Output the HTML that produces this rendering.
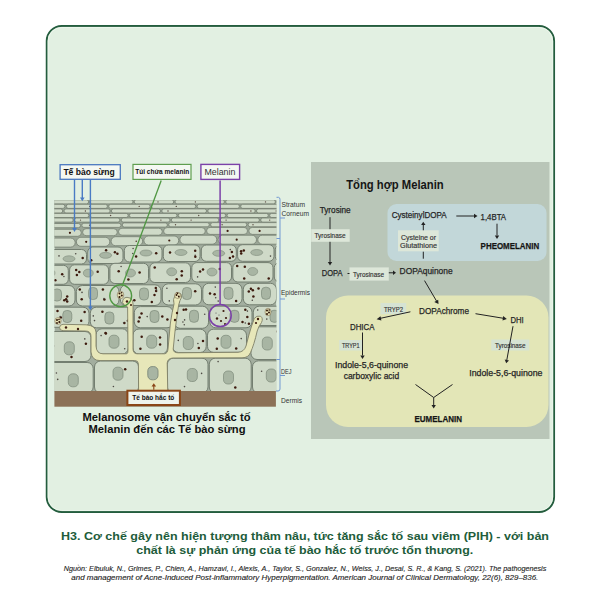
<!DOCTYPE html>
<html><head><meta charset="utf-8">
<style>
html,body{margin:0;padding:0;background:#fff;width:600px;height:600px;overflow:hidden}
svg{display:block;font-family:"Liberation Sans",sans-serif}
</style></head>
<body>
<svg width="600" height="600" viewBox="0 0 600 600">
<!-- card -->
<rect x="46.7" y="26" width="507.4" height="486" rx="15" ry="15" fill="#e2f0e2" stroke="#245d3e" stroke-width="1.9"/>
<rect x="48.1" y="27.4" width="504.6" height="483.2" rx="13.6" ry="13.6" fill="none" stroke="#eef7ed" stroke-width="0.9"/>

<!-- RIGHT PANEL -->
<g id="rp">
<rect x="311" y="162" width="238.5" height="277" fill="#b9c6b8"/>
<rect x="387.5" y="204" width="159" height="57" rx="9" fill="#c2d7d9"/>
<rect x="326" y="295.5" width="222.5" height="131.5" rx="22" fill="#e3e6b7"/>
<!-- enzyme boxes -->
<g fill="#dde7d9">
<rect x="311.2" y="229.2" width="38.5" height="12.6"/>
<rect x="349.5" y="267.4" width="39.3" height="13.2"/>
<rect x="398" y="230.3" width="40.7" height="21"/>
</g>
<g fill="#d6e3d3">
<rect x="380.5" y="303" width="25.7" height="11.2"/>
<rect x="339.2" y="340" width="22.8" height="10.5"/>
<rect x="491.2" y="339.5" width="38" height="11"/>
</g>
<!-- text -->
<g fill="#262626" stroke="#262626" stroke-width="0.25" font-size="8.7">
<text x="346.2" y="188.7" font-size="12" font-weight="bold" fill="#151515" stroke="none" textLength="97.5" lengthAdjust="spacingAndGlyphs">Tổng hợp Melanin</text>
<text x="319.7" y="213" textLength="31" lengthAdjust="spacingAndGlyphs">Tyrosine</text>
<text x="321.7" y="276" textLength="20.8" lengthAdjust="spacingAndGlyphs">DOPA</text>
<text x="391.7" y="218" font-size="9.2" textLength="55" lengthAdjust="spacingAndGlyphs">CysteinylDOPA</text>
<text x="480.6" y="219.5" font-size="9.2" textLength="25.5" lengthAdjust="spacingAndGlyphs">1,4BTA</text>
<text x="480.6" y="249.2" font-size="9" font-weight="bold" fill="#111" textLength="58.7" lengthAdjust="spacingAndGlyphs">PHEOMELANIN</text>
<text x="399.6" y="274" textLength="53" lengthAdjust="spacingAndGlyphs">DOPAquinone</text>
<text x="419" y="313.8" textLength="50" lengthAdjust="spacingAndGlyphs">DOPAchrome</text>
<text x="350" y="329.5" textLength="24.5" lengthAdjust="spacingAndGlyphs">DHICA</text>
<text x="510.5" y="322.5" textLength="13.2" lengthAdjust="spacingAndGlyphs">DHI</text>
<text x="335" y="367.5" textLength="73" lengthAdjust="spacingAndGlyphs">Indole-5,6-quinone</text>
<text x="343.7" y="378.7" textLength="55.5" lengthAdjust="spacingAndGlyphs">carboxylic acid</text>
<text x="469.2" y="375.5" textLength="73.3" lengthAdjust="spacingAndGlyphs">Indole-5,6-quinone</text>
<text x="414.5" y="422.3" font-weight="bold" fill="#111" textLength="47.5" lengthAdjust="spacingAndGlyphs">EUMELANIN</text>
</g>
<g fill="#333" stroke="#333" stroke-width="0.15" font-size="6.5">
<text x="314.5" y="237.7" textLength="31" lengthAdjust="spacingAndGlyphs">Tyrosinase</text>
<text x="353" y="277" textLength="31" lengthAdjust="spacingAndGlyphs">Tyrosinase</text>
<text x="401" y="240" textLength="35" lengthAdjust="spacingAndGlyphs">Cysteine or</text>
<text x="400" y="248" textLength="37" lengthAdjust="spacingAndGlyphs">Glutathione</text>
<text x="384" y="311.5" textLength="19" lengthAdjust="spacingAndGlyphs">TRYP2</text>
<text x="342" y="348" textLength="17.5" lengthAdjust="spacingAndGlyphs">TRYP1</text>
<text x="495" y="348" textLength="30.5" lengthAdjust="spacingAndGlyphs">Tyrosinase</text>
</g>
<!-- arrows -->
<g stroke="#222" stroke-width="1" fill="none">
<line x1="330" y1="217.2" x2="330" y2="229.2"/>
<line x1="330" y1="241.8" x2="330" y2="262"/>
<line x1="347.5" y1="273.5" x2="349.5" y2="273.5"/>
<line x1="388.8" y1="272.8" x2="393" y2="272.8"/>
<line x1="423.3" y1="225" x2="423.3" y2="230.3"/>
<line x1="423.3" y1="251.7" x2="423.3" y2="258.7"/>
<line x1="456.3" y1="216" x2="474" y2="216"/>
<line x1="497" y1="223.7" x2="497" y2="235.5"/>
<line x1="424.5" y1="280.6" x2="436.5" y2="301"/>
<line x1="410.4" y1="311.8" x2="380" y2="318.4"/>
<line x1="475.5" y1="313.7" x2="503.5" y2="318.3"/>
<line x1="362.5" y1="332.5" x2="362.5" y2="355.5"/>
<line x1="513" y1="326.2" x2="506.8" y2="360"/>
<polyline points="415.5,384.5 433.7,397.5 452.5,384.5"/>
<line x1="433.7" y1="397.5" x2="433.7" y2="405"/>
</g>
<g fill="#222">
<path d="M327.8,262 L332.2,262 L330,265.5Z"/>
<path d="M393,270.6 L393,275 L396,272.8Z"/>
<path d="M421.1,225 L425.5,225 L423.3,221.8Z"/>
<path d="M474,213.8 L474,218.2 L477.5,216Z"/>
<path d="M494.8,235.5 L499.2,235.5 L497,239Z"/>
<path d="M434.3,302 L438.2,299.8 L438.5,304Z"/>
<path d="M380.5,316.2 L381.4,320.5 L376.6,319.2Z"/>
<path d="M503.2,316.1 L502.5,320.4 L506.8,318.9Z"/>
<path d="M360.3,355.5 L364.7,355.5 L362.5,359Z"/>
<path d="M504.7,359.6 L509,360.4 L506.2,363.2Z"/>
<path d="M431.5,405 L435.9,405 L433.7,408.5Z"/>
</g>
</g>

<!-- LEFT ILLUSTRATION placeholder -->
<g id="illus">
<clipPath id="ic"><rect x="54.4" y="200" width="222" height="191.5"/></clipPath>
<g clip-path="url(#ic)">
<rect x="54.4" y="200" width="222" height="191.5" fill="#a3ae9f"/>
<rect x="54.4" y="200" width="222" height="46" fill="#9aa596"/>
<rect x="-78" y="199.8" width="41.9" height="4.1" rx="2" fill="#cfdac8" stroke="#737e70" stroke-width="0.8"/>
<circle cx="-51.9" cy="201.9" r="0.7" fill="#5a4a40"/>
<rect x="-34.8" y="199.8" width="38.9" height="4.1" rx="2" fill="#cfdac8" stroke="#737e70" stroke-width="0.8"/>
<circle cx="-19.5" cy="201.9" r="0.7" fill="#5a4a40"/>
<rect x="5.4" y="199.8" width="38.7" height="4.1" rx="2" fill="#cfdac8" stroke="#737e70" stroke-width="0.8"/>
<circle cx="10.5" cy="201.9" r="0.7" fill="#5a4a40"/>
<rect x="45.4" y="199.8" width="43.2" height="4.1" rx="2" fill="#cfdac8" stroke="#737e70" stroke-width="0.8"/>
<circle cx="52.5" cy="201.9" r="0.7" fill="#5a4a40"/>
<rect x="89.9" y="199.8" width="43.1" height="4.1" rx="2" fill="#cfdac8" stroke="#737e70" stroke-width="0.8"/>
<rect x="134.2" y="199.8" width="39.5" height="4.1" rx="2" fill="#cfdac8" stroke="#737e70" stroke-width="0.8"/>
<circle cx="158" cy="201.9" r="0.7" fill="#5a4a40"/>
<rect x="175" y="199.8" width="49.4" height="4.1" rx="2" fill="#cfdac8" stroke="#737e70" stroke-width="0.8"/>
<circle cx="195.4" cy="201.9" r="0.7" fill="#5a4a40"/>
<rect x="225.7" y="199.8" width="49.7" height="4.1" rx="2" fill="#cfdac8" stroke="#737e70" stroke-width="0.8"/>
<circle cx="265.5" cy="201.9" r="0.7" fill="#5a4a40"/>
<rect x="276.7" y="199.8" width="41.5" height="4.1" rx="2" fill="#cfdac8" stroke="#737e70" stroke-width="0.8"/>
<circle cx="284.7" cy="201.9" r="0.7" fill="#5a4a40"/>
<rect x="-94" y="204.3" width="39.7" height="4.1" rx="2" fill="#cfdac8" stroke="#737e70" stroke-width="0.8"/>
<rect x="-53" y="204.3" width="38.2" height="4.1" rx="2" fill="#cfdac8" stroke="#737e70" stroke-width="0.8"/>
<circle cx="-29.7" cy="206.4" r="0.7" fill="#5a4a40"/>
<rect x="-13.5" y="204.3" width="40.5" height="4.1" rx="2" fill="#cfdac8" stroke="#737e70" stroke-width="0.8"/>
<circle cx="-7.5" cy="206.4" r="0.7" fill="#5a4a40"/>
<rect x="28.2" y="204.3" width="36.7" height="4.1" rx="2" fill="#cfdac8" stroke="#737e70" stroke-width="0.8"/>
<circle cx="51.8" cy="206.4" r="0.7" fill="#5a4a40"/>
<rect x="66.3" y="204.3" width="41.1" height="4.1" rx="2" fill="#cfdac8" stroke="#737e70" stroke-width="0.8"/>
<circle cx="89.7" cy="206.4" r="0.7" fill="#5a4a40"/>
<rect x="108.7" y="204.3" width="41.4" height="4.1" rx="2" fill="#cfdac8" stroke="#737e70" stroke-width="0.8"/>
<circle cx="139.2" cy="206.4" r="0.7" fill="#5a4a40"/>
<rect x="151.4" y="204.3" width="44.4" height="4.1" rx="2" fill="#cfdac8" stroke="#737e70" stroke-width="0.8"/>
<circle cx="176.3" cy="206.4" r="0.7" fill="#5a4a40"/>
<rect x="197.1" y="204.3" width="42.3" height="4.1" rx="2" fill="#cfdac8" stroke="#737e70" stroke-width="0.8"/>
<rect x="240.7" y="204.3" width="44.8" height="4.1" rx="2" fill="#cfdac8" stroke="#737e70" stroke-width="0.8"/>
<circle cx="280.7" cy="206.4" r="0.7" fill="#5a4a40"/>
<rect x="-119" y="208.9" width="40.4" height="4.1" rx="2" fill="#cfdac8" stroke="#737e70" stroke-width="0.8"/>
<circle cx="-90.5" cy="211" r="0.7" fill="#5a4a40"/>
<rect x="-77.3" y="208.9" width="40.8" height="4.1" rx="2" fill="#cfdac8" stroke="#737e70" stroke-width="0.8"/>
<circle cx="-72" cy="211" r="0.7" fill="#5a4a40"/>
<rect x="-35.2" y="208.9" width="47" height="4.1" rx="2" fill="#cfdac8" stroke="#737e70" stroke-width="0.8"/>
<circle cx="-8.8" cy="211" r="0.7" fill="#5a4a40"/>
<rect x="13.2" y="208.9" width="49.5" height="4.1" rx="2" fill="#cfdac8" stroke="#737e70" stroke-width="0.8"/>
<circle cx="46" cy="211" r="0.7" fill="#5a4a40"/>
<rect x="64" y="208.9" width="46.1" height="4.1" rx="2" fill="#cfdac8" stroke="#737e70" stroke-width="0.8"/>
<circle cx="85.4" cy="211" r="0.7" fill="#5a4a40"/>
<rect x="111.4" y="208.9" width="49.1" height="4.1" rx="2" fill="#cfdac8" stroke="#737e70" stroke-width="0.8"/>
<rect x="161.8" y="208.9" width="44.7" height="4.1" rx="2" fill="#cfdac8" stroke="#737e70" stroke-width="0.8"/>
<circle cx="168" cy="211" r="0.7" fill="#5a4a40"/>
<rect x="207.8" y="208.9" width="47.4" height="4.1" rx="2" fill="#cfdac8" stroke="#737e70" stroke-width="0.8"/>
<circle cx="250.9" cy="211" r="0.7" fill="#5a4a40"/>
<rect x="256.5" y="208.9" width="48.9" height="4.1" rx="2" fill="#cfdac8" stroke="#737e70" stroke-width="0.8"/>
<circle cx="276.2" cy="211" r="0.7" fill="#5a4a40"/>
<rect x="-87" y="213.4" width="45" height="4.1" rx="2" fill="#cfdac8" stroke="#737e70" stroke-width="0.8"/>
<circle cx="-65.9" cy="215.5" r="0.7" fill="#5a4a40"/>
<rect x="-40.7" y="213.4" width="39" height="4.1" rx="2" fill="#cfdac8" stroke="#737e70" stroke-width="0.8"/>
<circle cx="-34.8" cy="215.5" r="0.7" fill="#5a4a40"/>
<rect x="-0.4" y="213.4" width="46.2" height="4.1" rx="2" fill="#cfdac8" stroke="#737e70" stroke-width="0.8"/>
<circle cx="13.1" cy="215.5" r="0.7" fill="#5a4a40"/>
<rect x="47.2" y="213.4" width="41.7" height="4.1" rx="2" fill="#cfdac8" stroke="#737e70" stroke-width="0.8"/>
<rect x="90.2" y="213.4" width="38" height="4.1" rx="2" fill="#cfdac8" stroke="#737e70" stroke-width="0.8"/>
<circle cx="110.6" cy="215.5" r="0.7" fill="#5a4a40"/>
<rect x="129.4" y="213.4" width="47.6" height="4.1" rx="2" fill="#cfdac8" stroke="#737e70" stroke-width="0.8"/>
<rect x="178.3" y="213.4" width="47.4" height="4.1" rx="2" fill="#cfdac8" stroke="#737e70" stroke-width="0.8"/>
<circle cx="198.7" cy="215.5" r="0.7" fill="#5a4a40"/>
<rect x="227" y="213.4" width="41.3" height="4.1" rx="2" fill="#cfdac8" stroke="#737e70" stroke-width="0.8"/>
<rect x="269.6" y="213.4" width="48.5" height="4.1" rx="2" fill="#cfdac8" stroke="#737e70" stroke-width="0.8"/>
<circle cx="280.7" cy="215.5" r="0.7" fill="#5a4a40"/>
<rect x="-109" y="218" width="40.8" height="4.1" rx="2" fill="#cfdac8" stroke="#737e70" stroke-width="0.8"/>
<circle cx="-89.1" cy="220.1" r="0.7" fill="#5a4a40"/>
<rect x="-66.9" y="218" width="45.1" height="4.1" rx="2" fill="#cfdac8" stroke="#737e70" stroke-width="0.8"/>
<circle cx="-62.8" cy="220.1" r="0.7" fill="#5a4a40"/>
<rect x="-20.5" y="218" width="43" height="4.1" rx="2" fill="#cfdac8" stroke="#737e70" stroke-width="0.8"/>
<circle cx="3.3" cy="220.1" r="0.7" fill="#5a4a40"/>
<rect x="23.8" y="218" width="49.4" height="4.1" rx="2" fill="#cfdac8" stroke="#737e70" stroke-width="0.8"/>
<circle cx="49.1" cy="220.1" r="0.7" fill="#5a4a40"/>
<rect x="74.5" y="218" width="45.4" height="4.1" rx="2" fill="#cfdac8" stroke="#737e70" stroke-width="0.8"/>
<circle cx="80.5" cy="220.1" r="0.7" fill="#5a4a40"/>
<rect x="121.2" y="218" width="48.8" height="4.1" rx="2" fill="#cfdac8" stroke="#737e70" stroke-width="0.8"/>
<circle cx="160.9" cy="220.1" r="0.7" fill="#5a4a40"/>
<rect x="171.3" y="218" width="47.6" height="4.1" rx="2" fill="#cfdac8" stroke="#737e70" stroke-width="0.8"/>
<circle cx="191.1" cy="220.1" r="0.7" fill="#5a4a40"/>
<rect x="220.2" y="218" width="39.2" height="4.1" rx="2" fill="#cfdac8" stroke="#737e70" stroke-width="0.8"/>
<circle cx="226.1" cy="220.1" r="0.7" fill="#5a4a40"/>
<rect x="260.7" y="218" width="38.8" height="4.1" rx="2" fill="#cfdac8" stroke="#737e70" stroke-width="0.8"/>
<circle cx="269.7" cy="220.1" r="0.7" fill="#5a4a40"/>
<rect x="-77" y="224.3" width="39.1" height="4.2" rx="2.1" fill="#cfdac8" stroke="#737e70" stroke-width="0.8"/>
<circle cx="-73" cy="226.4" r="0.7" fill="#5a4a40"/>
<rect x="-36.6" y="224" width="36.8" height="4.2" rx="2.1" fill="#cfdac8" stroke="#737e70" stroke-width="0.8"/>
<circle cx="-22.1" cy="226.1" r="0.7" fill="#5a4a40"/>
<rect x="1.5" y="223.8" width="35.3" height="4.2" rx="2.1" fill="#cfdac8" stroke="#737e70" stroke-width="0.8"/>
<rect x="38.1" y="223.5" width="42.4" height="4.2" rx="2.1" fill="#cfdac8" stroke="#737e70" stroke-width="0.8"/>
<circle cx="50.8" cy="225.6" r="0.7" fill="#5a4a40"/>
<rect x="81.8" y="223.2" width="39.2" height="4.2" rx="2.1" fill="#cfdac8" stroke="#737e70" stroke-width="0.8"/>
<circle cx="89.6" cy="225.3" r="0.7" fill="#5a4a40"/>
<rect x="122.2" y="222.9" width="45.2" height="4.2" rx="2.1" fill="#cfdac8" stroke="#737e70" stroke-width="0.8"/>
<rect x="168.7" y="222.6" width="40.6" height="4.2" rx="2.1" fill="#cfdac8" stroke="#737e70" stroke-width="0.8"/>
<circle cx="175.5" cy="224.7" r="0.7" fill="#5a4a40"/>
<rect x="210.6" y="222.6" width="36.2" height="4.2" rx="2.1" fill="#cfdac8" stroke="#737e70" stroke-width="0.8"/>
<circle cx="222.1" cy="224.7" r="0.7" fill="#5a4a40"/>
<rect x="248.1" y="222.6" width="44.9" height="4.2" rx="2.1" fill="#cfdac8" stroke="#737e70" stroke-width="0.8"/>
<circle cx="253" cy="224.7" r="0.7" fill="#5a4a40"/>
<rect x="-80" y="230.8" width="43.4" height="7" rx="3.5" fill="#cfdac8" stroke="#737e70" stroke-width="0.8"/>
<circle cx="-70.8" cy="234.3" r="0.7" fill="#3d1a0e"/>
<rect x="-35.3" y="230.3" width="32.3" height="7" rx="3.5" fill="#cfdac8" stroke="#737e70" stroke-width="0.8"/>
<circle cx="-7.5" cy="233.8" r="0.7" fill="#3d1a0e"/>
<rect x="-1.7" y="229.8" width="40.4" height="7" rx="3.5" fill="#cfdac8" stroke="#737e70" stroke-width="0.8"/>
<circle cx="14.2" cy="233.3" r="1.1" fill="#3d1a0e"/>
<rect x="40" y="229.3" width="41.3" height="7" rx="3.5" fill="#cfdac8" stroke="#737e70" stroke-width="0.8"/>
<circle cx="69.9" cy="232.8" r="1.1" fill="#3d1a0e"/>
<rect x="82.6" y="228.7" width="34.7" height="7" rx="3.5" fill="#cfdac8" stroke="#737e70" stroke-width="0.8"/>
<rect x="118.5" y="228.2" width="43.8" height="7" rx="3.5" fill="#cfdac8" stroke="#737e70" stroke-width="0.8"/>
<rect x="163.6" y="227.6" width="41.7" height="7" rx="3.5" fill="#cfdac8" stroke="#737e70" stroke-width="0.8"/>
<rect x="206.6" y="227.4" width="40.9" height="7" rx="3.5" fill="#cfdac8" stroke="#737e70" stroke-width="0.8"/>
<circle cx="227.6" cy="230.9" r="1.1" fill="#3d1a0e"/>
<rect x="248.8" y="227.4" width="32.3" height="7" rx="3.5" fill="#cfdac8" stroke="#737e70" stroke-width="0.8"/>
<circle cx="259.6" cy="230.9" r="1.1" fill="#3d1a0e"/>
<rect x="-40" y="239.6" width="37.3" height="9" rx="4.5" fill="#cfdac8" stroke="#737e70" stroke-width="0.8"/>
<rect x="-1.4" y="238.9" width="34.4" height="9" rx="4.5" fill="#cfdac8" stroke="#737e70" stroke-width="0.8"/>
<rect x="34.3" y="238.1" width="40.9" height="9" rx="4.5" fill="#cfdac8" stroke="#737e70" stroke-width="0.8"/>
<rect x="76.4" y="237.3" width="33.4" height="9" rx="4.5" fill="#cfdac8" stroke="#737e70" stroke-width="0.8"/>
<circle cx="86.2" cy="241.8" r="1.1" fill="#3d1a0e"/>
<rect x="111.1" y="236.7" width="31.5" height="9" rx="4.5" fill="#cfdac8" stroke="#737e70" stroke-width="0.8"/>
<circle cx="136.2" cy="241.2" r="0.7" fill="#3d1a0e"/>
<rect x="143.9" y="236" width="34.8" height="9" rx="4.5" fill="#cfdac8" stroke="#737e70" stroke-width="0.8"/>
<circle cx="169.3" cy="240.5" r="1.1" fill="#3d1a0e"/>
<rect x="179.9" y="235.2" width="36.9" height="9" rx="4.5" fill="#cfdac8" stroke="#737e70" stroke-width="0.8"/>
<rect x="218.1" y="235.2" width="38.4" height="9" rx="4.5" fill="#cfdac8" stroke="#737e70" stroke-width="0.8"/>
<circle cx="236.7" cy="239.7" r="1.1" fill="#3d1a0e"/>
<rect x="257.8" y="235.2" width="38.5" height="9" rx="4.5" fill="#cfdac8" stroke="#737e70" stroke-width="0.8"/>
<circle cx="286.2" cy="239.7" r="0.7" fill="#3d1a0e"/>
<rect x="40" y="249.5" width="46.5" height="14.5" rx="5" fill="#cfdac8" stroke="#737e70" stroke-width="1"/>
<ellipse cx="69" cy="258.8" rx="6" ry="3" fill="#a8b5a3" stroke="#7d897a" stroke-width="0.6"/>
<circle cx="59" cy="255.9" r="0.8" fill="#4e4a44"/>
<circle cx="48.1" cy="253.8" r="0.8" fill="#4e4a44"/>
<circle cx="75.7" cy="253.7" r="0.8" fill="#4e4a44"/>
<circle cx="82.7" cy="258.1" r="1.25" fill="#3d1a0e"/>
<rect x="87.8" y="247" width="35.2" height="16.5" rx="5" fill="#cfdac8" stroke="#737e70" stroke-width="1"/>
<ellipse cx="105.6" cy="255.3" rx="6" ry="3" fill="#a8b5a3" stroke="#7d897a" stroke-width="0.6"/>
<circle cx="91.2" cy="260.2" r="1.25" fill="#3d1a0e"/>
<circle cx="114.9" cy="252.2" r="1.25" fill="#3d1a0e"/>
<circle cx="117.4" cy="253.7" r="1.25" fill="#3d1a0e"/>
<circle cx="106.1" cy="250.2" r="1.25" fill="#3d1a0e"/>
<rect x="124.3" y="245.5" width="37.7" height="16.5" rx="5" fill="#cfdac8" stroke="#737e70" stroke-width="1"/>
<ellipse cx="146" cy="253" rx="6" ry="3" fill="#a8b5a3" stroke="#7d897a" stroke-width="0.6"/>
<circle cx="133.1" cy="248.5" r="0.8" fill="#4e4a44"/>
<circle cx="132.8" cy="253.5" r="0.8" fill="#4e4a44"/>
<circle cx="136.1" cy="256.6" r="1.25" fill="#3d1a0e"/>
<circle cx="156.2" cy="253.2" r="1.25" fill="#3d1a0e"/>
<rect x="163.3" y="245" width="36.7" height="16.5" rx="5" fill="#cfdac8" stroke="#737e70" stroke-width="1"/>
<ellipse cx="181" cy="252.5" rx="6" ry="3" fill="#a8b5a3" stroke="#7d897a" stroke-width="0.6"/>
<circle cx="195.2" cy="255.3" r="0.8" fill="#4e4a44"/>
<circle cx="195.2" cy="250.7" r="1.25" fill="#3d1a0e"/>
<circle cx="195.3" cy="256.8" r="1.25" fill="#3d1a0e"/>
<circle cx="170" cy="252.6" r="1.25" fill="#3d1a0e"/>
<rect x="201.3" y="245" width="35" height="16.3" rx="5" fill="#cfdac8" stroke="#737e70" stroke-width="1"/>
<ellipse cx="218.7" cy="253.3" rx="6" ry="3" fill="#a8b5a3" stroke="#7d897a" stroke-width="0.6"/>
<circle cx="230.3" cy="249.6" r="0.8" fill="#4e4a44"/>
<circle cx="229.9" cy="258" r="1.25" fill="#3d1a0e"/>
<circle cx="231.9" cy="252.1" r="1.25" fill="#3d1a0e"/>
<circle cx="233" cy="256.6" r="1.25" fill="#3d1a0e"/>
<rect x="237.6" y="244.7" width="36.4" height="16.6" rx="5" fill="#cfdac8" stroke="#737e70" stroke-width="1"/>
<ellipse cx="256.7" cy="252.5" rx="6" ry="3" fill="#a8b5a3" stroke="#7d897a" stroke-width="0.6"/>
<circle cx="241.2" cy="253.6" r="1.25" fill="#3d1a0e"/>
<circle cx="241.1" cy="251.2" r="1.25" fill="#3d1a0e"/>
<circle cx="270.5" cy="256.1" r="0.8" fill="#4e4a44"/>
<circle cx="243.8" cy="250.5" r="1.25" fill="#3d1a0e"/>
<rect x="275.3" y="244.7" width="24.7" height="16.6" rx="5" fill="#cfdac8" stroke="#737e70" stroke-width="1"/>
<circle cx="292.9" cy="250.6" r="1.25" fill="#3d1a0e"/>
<circle cx="286.2" cy="257.4" r="0.8" fill="#4e4a44"/>
<circle cx="283.1" cy="249.3" r="0.8" fill="#4e4a44"/>
<circle cx="289" cy="255.1" r="1.25" fill="#3d1a0e"/>
<rect x="40" y="265.3" width="28.3" height="19" rx="5" fill="#cfdac8" stroke="#737e70" stroke-width="1"/>
<ellipse cx="50" cy="273" rx="5" ry="4" fill="#a8b5a3" stroke="#7d897a" stroke-width="0.6"/>
<circle cx="63.9" cy="276.5" r="0.8" fill="#4e4a44"/>
<circle cx="44.9" cy="279.4" r="1.25" fill="#3d1a0e"/>
<circle cx="62.2" cy="274.2" r="1.25" fill="#3d1a0e"/>
<circle cx="55.3" cy="280.3" r="1.25" fill="#3d1a0e"/>
<rect x="69.6" y="264.8" width="39" height="19.5" rx="5" fill="#cfdac8" stroke="#737e70" stroke-width="1"/>
<ellipse cx="88.3" cy="273.1" rx="5" ry="4" fill="#a8b5a3" stroke="#7d897a" stroke-width="0.6"/>
<circle cx="76.9" cy="274.9" r="1.25" fill="#3d1a0e"/>
<circle cx="76.2" cy="270" r="1.25" fill="#3d1a0e"/>
<circle cx="79.3" cy="272" r="1.25" fill="#3d1a0e"/>
<circle cx="97.7" cy="271.7" r="1.25" fill="#3d1a0e"/>
<rect x="109.9" y="263.3" width="38.6" height="20.2" rx="5" fill="#cfdac8" stroke="#737e70" stroke-width="1"/>
<ellipse cx="130.5" cy="273" rx="5" ry="4" fill="#a8b5a3" stroke="#7d897a" stroke-width="0.6"/>
<circle cx="118.7" cy="271.2" r="1.25" fill="#3d1a0e"/>
<circle cx="121.1" cy="266.5" r="0.8" fill="#4e4a44"/>
<circle cx="128.4" cy="279.6" r="1.25" fill="#3d1a0e"/>
<circle cx="139.6" cy="272.4" r="1.25" fill="#3d1a0e"/>
<rect x="149.8" y="262.8" width="40.7" height="19.7" rx="5" fill="#cfdac8" stroke="#737e70" stroke-width="1"/>
<ellipse cx="171.7" cy="271.8" rx="5" ry="4" fill="#a8b5a3" stroke="#7d897a" stroke-width="0.6"/>
<circle cx="181.8" cy="271.2" r="1.25" fill="#3d1a0e"/>
<circle cx="176.7" cy="279.3" r="1.25" fill="#3d1a0e"/>
<circle cx="181.7" cy="275.5" r="1.25" fill="#3d1a0e"/>
<circle cx="154.7" cy="267.6" r="1.25" fill="#3d1a0e"/>
<rect x="191.8" y="262.6" width="39.7" height="19.4" rx="5" fill="#cfdac8" stroke="#737e70" stroke-width="1"/>
<ellipse cx="212" cy="272" rx="5" ry="4" fill="#a8b5a3" stroke="#7d897a" stroke-width="0.6"/>
<circle cx="219.8" cy="269" r="1.25" fill="#3d1a0e"/>
<circle cx="197.6" cy="276.9" r="0.8" fill="#4e4a44"/>
<circle cx="203" cy="269.5" r="1.25" fill="#3d1a0e"/>
<circle cx="200.1" cy="271.6" r="1.25" fill="#3d1a0e"/>
<rect x="232.8" y="262.6" width="40.2" height="19.4" rx="5" fill="#cfdac8" stroke="#737e70" stroke-width="1"/>
<ellipse cx="252.7" cy="271.5" rx="5" ry="4" fill="#a8b5a3" stroke="#7d897a" stroke-width="0.6"/>
<circle cx="268.7" cy="278.6" r="1.25" fill="#3d1a0e"/>
<circle cx="244.2" cy="278.5" r="1.25" fill="#3d1a0e"/>
<circle cx="244.8" cy="266.8" r="1.25" fill="#3d1a0e"/>
<circle cx="237.2" cy="265.9" r="1.25" fill="#3d1a0e"/>
<rect x="274.3" y="262.6" width="25.7" height="19.4" rx="5" fill="#cfdac8" stroke="#737e70" stroke-width="1"/>
<circle cx="281.9" cy="273.4" r="1.25" fill="#3d1a0e"/>
<circle cx="292.1" cy="274.4" r="0.8" fill="#4e4a44"/>
<circle cx="294.6" cy="270.8" r="1.25" fill="#3d1a0e"/>
<circle cx="296.7" cy="267.6" r="0.8" fill="#4e4a44"/>
<rect x="40" y="285.5" width="35" height="20.5" rx="6" fill="#cfdac8" stroke="#737e70" stroke-width="1"/>
<rect x="52.5" y="289" width="9" height="12" rx="3.8" fill="#a8b5a3" stroke="#7d897a" stroke-width="0.7"/>
<circle cx="67.2" cy="301.4" r="1.25" fill="#3d1a0e"/>
<circle cx="64.3" cy="300.3" r="1.25" fill="#3d1a0e"/>
<circle cx="67.2" cy="300.2" r="0.8" fill="#4e4a44"/>
<circle cx="49.7" cy="289" r="1.25" fill="#3d1a0e"/>
<circle cx="67.2" cy="296.6" r="1.25" fill="#3d1a0e"/>
<circle cx="66.1" cy="299.3" r="1.25" fill="#3d1a0e"/>
<rect x="76.3" y="285.5" width="42.7" height="20.5" rx="6" fill="#cfdac8" stroke="#737e70" stroke-width="1"/>
<rect x="88.5" y="287.5" width="9" height="12" rx="3.8" fill="#a8b5a3" stroke="#7d897a" stroke-width="0.7"/>
<circle cx="81.7" cy="299.2" r="1.25" fill="#3d1a0e"/>
<circle cx="82" cy="292.4" r="0.8" fill="#4e4a44"/>
<circle cx="104.4" cy="299.6" r="1.25" fill="#3d1a0e"/>
<circle cx="102.9" cy="289.6" r="1.25" fill="#3d1a0e"/>
<circle cx="79.8" cy="289.4" r="1.25" fill="#3d1a0e"/>
<circle cx="104" cy="298.5" r="0.8" fill="#4e4a44"/>
<rect x="120.3" y="284.8" width="40.7" height="20.7" rx="6" fill="#cfdac8" stroke="#737e70" stroke-width="1"/>
<rect x="139.5" y="288" width="9" height="12" rx="3.8" fill="#a8b5a3" stroke="#7d897a" stroke-width="0.7"/>
<circle cx="155.8" cy="288.1" r="1.25" fill="#3d1a0e"/>
<circle cx="151.8" cy="302" r="1.25" fill="#3d1a0e"/>
<circle cx="156.1" cy="290.9" r="1.25" fill="#3d1a0e"/>
<circle cx="156.4" cy="289.7" r="0.8" fill="#4e4a44"/>
<circle cx="154.5" cy="294.9" r="1.25" fill="#3d1a0e"/>
<circle cx="134.3" cy="300.2" r="1.25" fill="#3d1a0e"/>
<rect x="162.3" y="283.8" width="39.2" height="21.2" rx="6" fill="#cfdac8" stroke="#737e70" stroke-width="1"/>
<rect x="182.5" y="287.5" width="9" height="12" rx="3.8" fill="#a8b5a3" stroke="#7d897a" stroke-width="0.7"/>
<circle cx="169.3" cy="300.9" r="0.8" fill="#4e4a44"/>
<circle cx="195.2" cy="291.2" r="1.25" fill="#3d1a0e"/>
<circle cx="178.3" cy="302" r="1.25" fill="#3d1a0e"/>
<circle cx="177.3" cy="293.3" r="1.25" fill="#3d1a0e"/>
<circle cx="166.9" cy="288.3" r="0.8" fill="#4e4a44"/>
<circle cx="174.8" cy="301" r="1.25" fill="#3d1a0e"/>
<rect x="202.8" y="283.3" width="39.2" height="21.5" rx="6" fill="#cfdac8" stroke="#737e70" stroke-width="1"/>
<rect x="224" y="287.3" width="9" height="12" rx="3.8" fill="#a8b5a3" stroke="#7d897a" stroke-width="0.7"/>
<circle cx="214.6" cy="294.2" r="1.25" fill="#3d1a0e"/>
<circle cx="218.2" cy="301.1" r="0.8" fill="#4e4a44"/>
<circle cx="236.1" cy="300.9" r="1.25" fill="#3d1a0e"/>
<circle cx="215.3" cy="287.1" r="0.8" fill="#4e4a44"/>
<circle cx="210" cy="293.6" r="1.25" fill="#3d1a0e"/>
<circle cx="215.7" cy="297.8" r="0.8" fill="#4e4a44"/>
<rect x="243.3" y="283.3" width="33.2" height="21.5" rx="6" fill="#cfdac8" stroke="#737e70" stroke-width="1"/>
<rect x="261.5" y="287.3" width="9" height="12" rx="3.8" fill="#a8b5a3" stroke="#7d897a" stroke-width="0.7"/>
<circle cx="253.4" cy="296.5" r="1.25" fill="#3d1a0e"/>
<circle cx="250.9" cy="288.8" r="1.25" fill="#3d1a0e"/>
<circle cx="252.3" cy="300.3" r="0.8" fill="#4e4a44"/>
<circle cx="258.5" cy="288.5" r="1.25" fill="#3d1a0e"/>
<circle cx="248.8" cy="291.6" r="1.25" fill="#3d1a0e"/>
<circle cx="252.8" cy="290.3" r="1.25" fill="#3d1a0e"/>
<rect x="40" y="307.2" width="49" height="20.1" rx="6" fill="#cfdac8" stroke="#737e70" stroke-width="1"/>
<rect x="62.8" y="310.5" width="9" height="12" rx="3.8" fill="#a8b5a3" stroke="#7d897a" stroke-width="0.7"/>
<circle cx="81.2" cy="320.8" r="1.25" fill="#3d1a0e"/>
<circle cx="60.8" cy="317.6" r="1.25" fill="#3d1a0e"/>
<circle cx="57.5" cy="311.1" r="1.25" fill="#3d1a0e"/>
<circle cx="84.6" cy="312" r="1.25" fill="#3d1a0e"/>
<circle cx="52.3" cy="314" r="1.25" fill="#3d1a0e"/>
<circle cx="60.2" cy="316.5" r="0.8" fill="#4e4a44"/>
<rect x="90.3" y="307.2" width="42.7" height="20.6" rx="6" fill="#cfdac8" stroke="#737e70" stroke-width="1"/>
<rect x="104.9" y="312" width="9" height="12" rx="3.8" fill="#a8b5a3" stroke="#7d897a" stroke-width="0.7"/>
<circle cx="124.4" cy="322.9" r="1.25" fill="#3d1a0e"/>
<circle cx="94.5" cy="320.6" r="0.8" fill="#4e4a44"/>
<circle cx="93.3" cy="315.9" r="0.8" fill="#4e4a44"/>
<circle cx="123.6" cy="322.7" r="0.8" fill="#4e4a44"/>
<circle cx="102.4" cy="311.8" r="1.25" fill="#3d1a0e"/>
<circle cx="127.9" cy="320.7" r="1.25" fill="#3d1a0e"/>
<rect x="134.3" y="306.6" width="38.7" height="21.2" rx="6" fill="#cfdac8" stroke="#737e70" stroke-width="1"/>
<rect x="150" y="310.5" width="9" height="12" rx="3.8" fill="#a8b5a3" stroke="#7d897a" stroke-width="0.7"/>
<circle cx="162.3" cy="316.6" r="1.25" fill="#3d1a0e"/>
<circle cx="138.6" cy="321.5" r="1.25" fill="#3d1a0e"/>
<circle cx="167.4" cy="319.4" r="1.25" fill="#3d1a0e"/>
<circle cx="141.5" cy="313.4" r="1.25" fill="#3d1a0e"/>
<circle cx="139.6" cy="317.6" r="1.25" fill="#3d1a0e"/>
<circle cx="147.2" cy="316.6" r="0.8" fill="#4e4a44"/>
<rect x="174.3" y="306.2" width="34.2" height="22.1" rx="6" fill="#cfdac8" stroke="#737e70" stroke-width="1"/>
<rect x="189.5" y="310.3" width="9" height="12" rx="3.8" fill="#a8b5a3" stroke="#7d897a" stroke-width="0.7"/>
<circle cx="184.3" cy="324.7" r="0.8" fill="#4e4a44"/>
<circle cx="186" cy="309.6" r="1.25" fill="#3d1a0e"/>
<circle cx="184.6" cy="319.9" r="0.8" fill="#4e4a44"/>
<circle cx="183.7" cy="309.7" r="1.25" fill="#3d1a0e"/>
<circle cx="182.9" cy="322" r="0.8" fill="#4e4a44"/>
<circle cx="204.7" cy="314.2" r="0.8" fill="#4e4a44"/>
<rect x="209.8" y="306.2" width="42.2" height="21.6" rx="6" fill="#cfdac8" stroke="#737e70" stroke-width="1"/>
<rect x="230" y="310.3" width="9" height="12" rx="3.8" fill="#a8b5a3" stroke="#7d897a" stroke-width="0.7"/>
<circle cx="247.3" cy="316.9" r="1.25" fill="#3d1a0e"/>
<circle cx="245.3" cy="323" r="0.8" fill="#4e4a44"/>
<circle cx="248.9" cy="323.7" r="1.25" fill="#3d1a0e"/>
<circle cx="247.4" cy="311.1" r="0.8" fill="#4e4a44"/>
<circle cx="242.5" cy="322" r="1.25" fill="#3d1a0e"/>
<circle cx="245.3" cy="309.7" r="1.25" fill="#3d1a0e"/>
<rect x="253.3" y="306.2" width="46.7" height="19.3" rx="6" fill="#cfdac8" stroke="#737e70" stroke-width="1"/>
<rect x="270" y="310.3" width="9" height="12" rx="3.8" fill="#a8b5a3" stroke="#7d897a" stroke-width="0.7"/>
<circle cx="289.3" cy="319.4" r="1.25" fill="#3d1a0e"/>
<circle cx="257.7" cy="310" r="0.8" fill="#4e4a44"/>
<circle cx="266.8" cy="319.1" r="0.8" fill="#4e4a44"/>
<circle cx="295.3" cy="317.4" r="1.25" fill="#3d1a0e"/>
<circle cx="285.5" cy="313.4" r="1.25" fill="#3d1a0e"/>
<circle cx="256.5" cy="319.3" r="0.8" fill="#4e4a44"/>
<rect x="40" y="331.5" width="51" height="30" rx="6" fill="#cfdac8" stroke="#737e70" stroke-width="1"/>
<rect x="64.3" y="341.8" width="10" height="13" rx="4.2" fill="#a8b5a3" stroke="#7d897a" stroke-width="0.7"/>
<circle cx="71.5" cy="357.1" r="1.25" fill="#3d1a0e"/>
<circle cx="53.5" cy="345.9" r="0.8" fill="#4e4a44"/>
<circle cx="85.9" cy="343.8" r="1.25" fill="#3d1a0e"/>
<circle cx="84.8" cy="338.9" r="0.8" fill="#4e4a44"/>
<rect x="96" y="328.8" width="32.2" height="25.2" rx="6" fill="#cfdac8" stroke="#737e70" stroke-width="1"/>
<rect x="109" y="335.2" width="10" height="13" rx="4.2" fill="#a8b5a3" stroke="#7d897a" stroke-width="0.7"/>
<circle cx="101.1" cy="335.6" r="0.8" fill="#4e4a44"/>
<circle cx="105.5" cy="333" r="1.25" fill="#3d1a0e"/>
<circle cx="124.7" cy="348.8" r="0.8" fill="#4e4a44"/>
<circle cx="105.9" cy="333.4" r="1.25" fill="#3d1a0e"/>
<rect x="133" y="329" width="34.5" height="25" rx="6" fill="#cfdac8" stroke="#737e70" stroke-width="1"/>
<rect x="146.7" y="335.2" width="10" height="13" rx="4.2" fill="#a8b5a3" stroke="#7d897a" stroke-width="0.7"/>
<circle cx="160.1" cy="344.6" r="1.25" fill="#3d1a0e"/>
<circle cx="160" cy="337.6" r="1.25" fill="#3d1a0e"/>
<circle cx="141.7" cy="336.7" r="1.25" fill="#3d1a0e"/>
<circle cx="140.4" cy="348.8" r="1.25" fill="#3d1a0e"/>
<rect x="172.5" y="329.2" width="33.7" height="23.3" rx="6" fill="#cfdac8" stroke="#737e70" stroke-width="1"/>
<rect x="183.3" y="336.5" width="10" height="13" rx="4.2" fill="#a8b5a3" stroke="#7d897a" stroke-width="0.7"/>
<circle cx="203" cy="341" r="1.25" fill="#3d1a0e"/>
<circle cx="197.9" cy="343.5" r="0.8" fill="#4e4a44"/>
<circle cx="178.3" cy="340.4" r="0.8" fill="#4e4a44"/>
<circle cx="198.8" cy="348" r="1.25" fill="#3d1a0e"/>
<rect x="207.5" y="329.2" width="39" height="23.1" rx="6" fill="#cfdac8" stroke="#737e70" stroke-width="1"/>
<rect x="221" y="335.3" width="10" height="13" rx="4.2" fill="#a8b5a3" stroke="#7d897a" stroke-width="0.7"/>
<circle cx="216.8" cy="348.8" r="1.25" fill="#3d1a0e"/>
<circle cx="241.2" cy="338.6" r="0.8" fill="#4e4a44"/>
<circle cx="236.2" cy="348.4" r="1.25" fill="#3d1a0e"/>
<circle cx="217.7" cy="338.5" r="1.25" fill="#3d1a0e"/>
<rect x="251" y="326.8" width="49" height="32.7" rx="6" fill="#cfdac8" stroke="#737e70" stroke-width="1"/>
<rect x="262.3" y="337" width="10" height="13" rx="4.2" fill="#a8b5a3" stroke="#7d897a" stroke-width="0.7"/>
<circle cx="279.8" cy="347.2" r="1.25" fill="#3d1a0e"/>
<circle cx="254.5" cy="338.5" r="0.8" fill="#4e4a44"/>
<circle cx="277.6" cy="331.5" r="1.25" fill="#3d1a0e"/>
<circle cx="281.5" cy="332.2" r="1.25" fill="#3d1a0e"/>
<rect x="40" y="362.5" width="53.2" height="30.5" rx="6" fill="#cfdac8" stroke="#737e70" stroke-width="1"/>
<rect x="68.3" y="373.8" width="10" height="13" rx="4.2" fill="#a8b5a3" stroke="#7d897a" stroke-width="0.7"/>
<circle cx="56.4" cy="373" r="0.8" fill="#4e4a44"/>
<circle cx="57.7" cy="379.4" r="0.8" fill="#4e4a44"/>
<rect x="94.5" y="361" width="44.1" height="32" rx="6" fill="#cfdac8" stroke="#737e70" stroke-width="1"/>
<rect x="113" y="367.2" width="10" height="13" rx="4.2" fill="#a8b5a3" stroke="#7d897a" stroke-width="0.7"/>
<circle cx="113.4" cy="386.5" r="0.8" fill="#4e4a44"/>
<circle cx="125.2" cy="369.3" r="1.25" fill="#3d1a0e"/>
<rect x="167.4" y="358.2" width="40.6" height="34.8" rx="6" fill="#cfdac8" stroke="#737e70" stroke-width="1"/>
<rect x="187.3" y="368.5" width="10" height="13" rx="4.2" fill="#a8b5a3" stroke="#7d897a" stroke-width="0.7"/>
<circle cx="201.6" cy="373.4" r="0.8" fill="#4e4a44"/>
<circle cx="184.5" cy="386.6" r="0.8" fill="#4e4a44"/>
<rect x="209.3" y="358.2" width="41.9" height="34.8" rx="6" fill="#cfdac8" stroke="#737e70" stroke-width="1"/>
<rect x="223.5" y="371" width="10" height="13" rx="4.2" fill="#a8b5a3" stroke="#7d897a" stroke-width="0.7"/>
<circle cx="218.1" cy="361.6" r="0.8" fill="#4e4a44"/>
<circle cx="235.3" cy="387.4" r="1.25" fill="#3d1a0e"/>
<rect x="252.5" y="360.8" width="47.5" height="32.2" rx="6" fill="#cfdac8" stroke="#737e70" stroke-width="1"/>
<rect x="266.3" y="369" width="10" height="13" rx="4.2" fill="#a8b5a3" stroke="#7d897a" stroke-width="0.7"/>
<circle cx="281.3" cy="373.5" r="0.8" fill="#4e4a44"/>
<circle cx="261.6" cy="371.2" r="0.8" fill="#4e4a44"/>
</g>

<!-- melanocyte -->
<path d="M63,324.3 L86,324.8 Q95.5,325.5 96,332 L96,346 Q96.5,353.8 103,353.8 L126.8,353.8 Q128,353.5 128,350 L127.6,307 Q124,305.8 122.6,302.6 Q122.5,297.5 127,297.3 Q131.5,297.3 132.6,301 Q133.3,304 133,307 L133,349 Q133.2,353.8 137,353.8 L164.5,353.8 Q167.6,353.5 168,349 L170.4,323 Q172,312 174,304 Q172.6,299 175,295.6 Q178,291.8 181,294 Q182.8,297 180,300.5 Q178.5,304 177.6,312 Q174.8,330 173.2,349 Q173.2,352.8 178,352.8 L238,352.3 Q244,352 246,346 Q249,334 251.6,326 Q253,322.5 254.2,318.5 Q256.5,315.3 260.5,316.2 Q263.5,318.3 261.5,322.5 Q258.5,326.5 257.2,331 Q254,345 250.5,352.5 Q248.5,357.8 242,357.8 L173,358 Q167.6,358.3 167.2,363 L167.8,392 L138.6,392 L138.4,364 Q138.4,360.5 134.6,360.5 L100,360.6 Q91.8,360.6 91,352 L91,336.5 Q91,331 85.5,331 L63,330.7 Q59.5,330.6 59.6,327.5 Q59.7,324.4 63,324.3 Z" fill="#e7e7b9" stroke="#7f8068" stroke-width="0.9"/>
<rect x="147.8" y="366.6" width="10.2" height="13.2" rx="4.3" fill="#a8b5a3" stroke="#7d897a" stroke-width="0.9"/>
<!-- dots in dendrites -->
<g fill="#3d1a0e">
<circle cx="66" cy="327.5" r="1.2"/><circle cx="78" cy="329" r="1.2"/><circle cx="127" cy="301.5" r="1.2"/><circle cx="131" cy="305" r="1"/>
<circle cx="177" cy="313" r="1.2"/><circle cx="175" cy="320" r="1.2"/><circle cx="258" cy="319" r="1.2"/><circle cx="256" cy="323" r="1.1"/>
</g>
<!-- melanosome clusters -->
<g>
<ellipse cx="58" cy="321" rx="3.2" ry="3.4" fill="#e8e4b8" stroke="#6c5a40" stroke-width="0.5"/>
<ellipse cx="120.5" cy="295" rx="3.3" ry="3.8" fill="#e8e4b8" stroke="#6c5a40" stroke-width="0.5"/>
<ellipse cx="177.6" cy="295.5" rx="3" ry="3" fill="#e8e4b8" stroke="#6c5a40" stroke-width="0.5"/>
<ellipse cx="268" cy="312" rx="3" ry="3.8" fill="#e8e4b8" stroke="#6c5a40" stroke-width="0.5"/>
</g>
<g fill="#2e1408">
<circle cx="57" cy="320" r="1"/><circle cx="59.3" cy="322" r="1"/><circle cx="57" cy="323" r="0.9"/><circle cx="59" cy="319.5" r="0.8"/>
<circle cx="119.5" cy="293.5" r="1"/><circle cx="121.8" cy="295.5" r="1"/><circle cx="119.5" cy="297" r="1"/><circle cx="121.5" cy="292.8" r="0.8"/>
<circle cx="176.5" cy="295" r="1"/><circle cx="178.8" cy="296.5" r="0.9"/><circle cx="177.5" cy="293.5" r="0.8"/>
<circle cx="267" cy="310.5" r="1"/><circle cx="269" cy="312.5" r="1"/><circle cx="267" cy="314" r="1"/><circle cx="269.2" cy="310" r="0.8"/>
</g>
<!-- dots in purple circle -->
<g fill="#3d1a0e"><circle cx="223.5" cy="311" r="1.1"/><circle cx="226" cy="318" r="1.1"/><circle cx="217" cy="318.5" r="1.2"/><circle cx="221" cy="321" r="1.1"/><circle cx="225" cy="324" r="1"/></g>
<g fill="#555"><circle cx="216" cy="313" r="0.6"/><circle cx="219" cy="315" r="0.6"/></g>
<!-- dermis -->
<rect x="54.4" y="391" width="221.5" height="15.7" fill="#8c7157"/>
<!-- hac to box -->
<rect x="127.4" y="390.7" width="52.5" height="14.3" fill="#eef3ec" stroke="#8a4516" stroke-width="2"/>
<text x="132.3" y="400.4" font-size="6.8" font-weight="bold" fill="#111" textLength="42" lengthAdjust="spacingAndGlyphs">Tế bào hắc tố</text>
<line x1="153.8" y1="389.7" x2="153.8" y2="386" stroke="#8a4516" stroke-width="1.1"/>
<path d="M151.5,386.5 L156.1,386.5 L153.8,383.2Z" fill="#8a4516"/>
<!-- labels -->
<rect x="60.1" y="164.7" width="60.2" height="14.6" fill="#f4f8f2" stroke="#4a78c0" stroke-width="1.3"/>
<text x="63.4" y="175" font-size="8.7" font-weight="bold" fill="#111" textLength="51.4" lengthAdjust="spacingAndGlyphs">Tế bào sừng</text>
<rect x="133" y="164.4" width="58" height="15" fill="#f4f8f2" stroke="#5f9e4f" stroke-width="1.2"/>
<text x="135.2" y="174" font-size="6.5" font-weight="bold" fill="#111" textLength="54" lengthAdjust="spacingAndGlyphs">Túi chứa melanin</text>
<rect x="200.9" y="164.4" width="38.7" height="15" fill="#f4f8f2" stroke="#7b41a8" stroke-width="1.4"/>
<text x="204.5" y="175" font-size="9.5" fill="#333" textLength="30.8" lengthAdjust="spacingAndGlyphs">Melanin</text>
<!-- lines -->
<g stroke="#4a7bc4" stroke-width="1.4" fill="none">
<line x1="74.5" y1="179.5" x2="74.5" y2="228.5"/>
<line x1="82.3" y1="179.5" x2="82.3" y2="198"/>
<line x1="90.4" y1="179.5" x2="90.4" y2="307"/>
</g>
<g fill="#4a7bc4">
<path d="M72.2,228 L76.8,228 L74.5,232Z"/>
<path d="M80,197.5 L84.6,197.5 L82.3,201.3Z"/>
<path d="M88.1,306.5 L92.7,306.5 L90.4,310.3Z"/>
</g>
<line x1="161.2" y1="180.5" x2="122.6" y2="284.8" stroke="#4f9742" stroke-width="1.3"/>
<circle cx="120.7" cy="295.7" r="10.9" fill="none" stroke="#4f9742" stroke-width="1.4"/>
<line x1="220.1" y1="180.5" x2="220.1" y2="304.6" stroke="#7b41a8" stroke-width="1.5"/>
<circle cx="220.2" cy="315.6" r="11" fill="none" stroke="#7b41a8" stroke-width="1.5"/>
<!-- brackets -->
<g stroke="#7299d2" stroke-width="1" fill="none">
<path d="M276.5,197.3 L278.5,197.3 Q280,197.5 280,199.5 L280,389 Q280,391 278,391 L276,391"/>
<path d="M276.5,238.5 L280,238.5"/>
<path d="M276.5,359.5 L280,359.5"/>
<path d="M280,218 L285,218"/>
<path d="M280,299 L285,299"/>
<path d="M280,375.5 L285,375.5"/>
</g>
<g fill="#333" font-size="6.3">
<text x="281.5" y="207" textLength="23.5" lengthAdjust="spacingAndGlyphs">Stratum</text>
<text x="281.5" y="215.5" textLength="27.5" lengthAdjust="spacingAndGlyphs">Corneum</text>
<text x="281" y="295" textLength="29" lengthAdjust="spacingAndGlyphs">Epidermis</text>
<text x="281" y="373.5" textLength="10.5" lengthAdjust="spacingAndGlyphs">DEJ</text>
<text x="281" y="402.5" textLength="21" lengthAdjust="spacingAndGlyphs">Dermis</text>
</g>

</g>
<!-- left titles -->
<g font-weight="bold" fill="#111" font-size="11">
<text x="82.5" y="421" textLength="168" lengthAdjust="spacingAndGlyphs">Melanosome vận chuyển sắc tố</text>
<text x="88.5" y="433" textLength="157" lengthAdjust="spacingAndGlyphs">Melanin đến các Tế bào sừng</text>
</g>

<!-- caption -->
<g font-weight="bold" fill="#215c3a" font-size="11.8">
<text x="61" y="540.3" textLength="488" lengthAdjust="spacingAndGlyphs">H3. Cơ chế gây nên hiện tượng thâm nâu, tức tăng sắc tố sau viêm (PIH) - với bản</text>
<text x="136.3" y="554.3" textLength="337" lengthAdjust="spacingAndGlyphs">chất là sự phản ứng của tế bào hắc tố trước tổn thương.</text>
</g>
<g font-style="italic" fill="#222" stroke="#222" stroke-width="0.12" font-size="7.6">
<text x="63.8" y="571" textLength="482.5" lengthAdjust="spacingAndGlyphs">Nguồn: Elbuluk, N., Grimes, P., Chien, A., Hamzavi, I., Alexis, A., Taylor, S., Gonzalez, N., Weiss, J., Desai, S. R., &amp; Kang, S. (2021). The pathogenesis</text>
<text x="71.3" y="580" textLength="467" lengthAdjust="spacingAndGlyphs">and management of Acne-Induced Post-inflammatory Hyperpigmentation. American Journal of Clinical Dermatology, 22(6), 829–836.</text>
</g>
</svg>
</body></html>
